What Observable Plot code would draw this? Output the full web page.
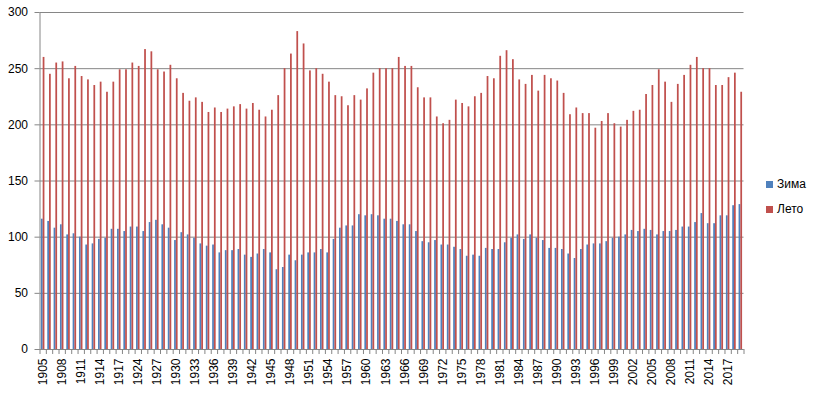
<!DOCTYPE html>
<html><head><meta charset="utf-8">
<script src="https://cdn.jsdelivr.net/npm/d3@7"></script>
<script src="https://cdn.jsdelivr.net/npm/@observablehq/plot@0.6"></script>
<style>
body{margin:0;background:#fff;font-family:"Liberation Sans",Arial,sans-serif;}
#wrap{position:relative;width:818px;height:393px;}
.legend{position:absolute;left:766px;top:178px;font-size:12px;color:#000;line-height:12px;}
.legend .it{display:flex;align-items:center;height:12px;margin-bottom:13px;}
.legend .sw{width:7px;height:7px;margin-right:4px;}
</style></head><body><div id="wrap"></div>
<script>
const years = [1905,1906,1907,1908,1909,1910,1911,1912,1913,1914,1915,1916,1917,1918,1923,
1924,1925,1926,1927,1928,1929,1930,1931,1932,1933,1934,1935,1936,1937,1938,1939,1940,1941,1942,1943,1944,1945,1946,1947,1948,1949,
1950,1951,1952,1953,1954,1955,1956,1957,1958,1959,1960,1961,1962,1963,1964,1965,1966,1967,1968,1969,
1970,1971,1972,1973,1974,1975,1976,1977,1978,1979,1980,1981,1982,1983,1984,1985,1986,1987,1988,1989,
1990,1991,1992,1993,1994,1995,1996,1997,1998,1999,2000,2001,2002,2003,2004,2005,2006,2007,2008,2009,
2010,2011,2012,2013,2014,2015,2016,2017,2018,2019];
const winter = [116,114,108,111,102,103,100,93,94,98,99,107,107,105,109,109,105,113,115,111,108,97,104,102,99,94,92,93,86,88,
88,89,84,82,85,89,86,71,73,84,79,84,86,86,89,86,98,108,110,110,120,119,120,119,116,116,114,111,111,105,
96,95,97,93,93,91,89,83,84,83,90,89,89,95,99,102,98,102,99,97,90,90,89,85,81,89,93,94,94,96,
99,100,102,106,105,107,106,102,105,105,106,109,109,113,121,112,112,119,119,128,129];
const summer = [260,245,255,256,241,252,243,240,235,238,229,238,249,249,255,252,267,265,249,247,253,241,228,221,224,220,211,215,211,214,
216,218,214,219,213,207,213,226,250,263,283,272,248,250,245,238,226,225,217,226,222,232,246,250,250,250,260,252,252,233,
224,224,207,201,204,222,219,216,225,228,243,241,261,266,258,240,236,244,230,244,241,239,228,209,215,210,210,197,203,210,
201,198,204,212,213,227,235,249,238,220,236,244,253,260,250,250,235,235,242,246,229];
const seriesNames = ["Зима", "Лето"];
const seriesColors = ["#4F81BD", "#C0504D"];
const yTicks = [0, 50, 100, 150, 200, 250, 300];
const labelYears = years.filter((d, i) => i % 3 === 0).map(String);

const data = years.map((y, i) => ({year: String(y), winter: winter[i], summer: summer[i]}));
const W = 818, H = 393, ml = 39.5, mr = 74.5, mt = 12, mb = 44;
const n = years.length;
const step = (W - ml - mr) / n;
const half = step / 2;
const bw = 1.75;
const grey = "#868686";

const chart = Plot.plot({
  width: W, height: H,
  marginLeft: ml, marginRight: mr, marginTop: mt, marginBottom: mb,
  style: {fontFamily: "Liberation Sans, Arial, sans-serif", fontSize: "12px", color: "#000", background: "#fff"},
  x: {type: "band", domain: years.map(String), paddingInner: 0, paddingOuter: 0, label: null},
  y: {domain: [0, 300], label: null},
  marks: [
    Plot.gridY(yTicks, {stroke: grey, strokeOpacity: 1}),
    Plot.barY(data, {x: "year", y: "winter", fill: seriesColors[0], insetLeft: half - bw, insetRight: half}),
    Plot.barY(data, {x: "year", y: "summer", fill: seriesColors[1], insetLeft: half, insetRight: half - bw}),
    Plot.ruleY([0], {stroke: grey}),
    Plot.frame({anchor: "left", stroke: grey}),
    Plot.axisY(yTicks, {tickSize: 5, tickPadding: 7, stroke: grey, fill: "#000", fontSize: 12}),
    Plot.axisX(years.map(String), {tickSize: 5, dx: -half, stroke: grey, tickFormat: () => ""}),
    Plot.axisX([String(years[n - 1])], {tickSize: 5, dx: half, stroke: grey, tickFormat: () => ""}),
    Plot.axisX(labelYears, {tickSize: 0, tickPadding: 9, tickRotate: -90, fill: "#000", fontSize: 12})
  ]
});
const wrap = document.getElementById("wrap");
wrap.appendChild(chart);
const leg = document.createElement("div");
leg.className = "legend";
seriesNames.forEach((name, i) => {
  const it = document.createElement("div");
  it.className = "it";
  it.innerHTML = `<span class="sw" style="background:${seriesColors[i]}"></span><span>${name}</span>`;
  leg.appendChild(it);
});
wrap.appendChild(leg);
</script>
</body></html>
